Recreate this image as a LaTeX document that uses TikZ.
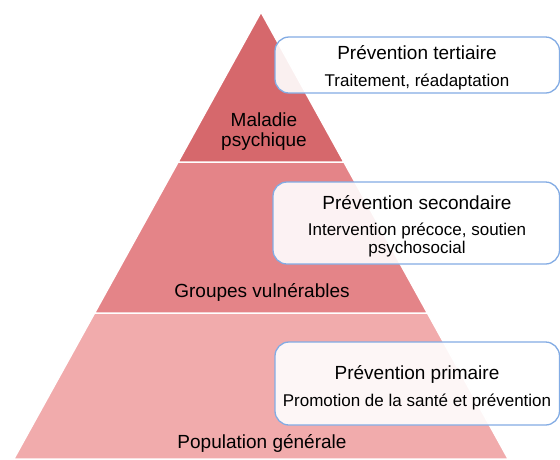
\documentclass[tikz,border=0pt]{standalone}
\usepackage{fontspec}
\setmainfont{Liberation Sans}
\definecolor{tierA}{RGB}{214,104,108}
\definecolor{tierB}{RGB}{228,132,136}
\definecolor{tierC}{RGB}{241,171,172}
\definecolor{boxline}{RGB}{131,172,228}
\tikzset{
  tier/.style={draw=white, line width=1.5pt},
  infobox/.style={draw=boxline, line width=1.3pt, fill=white, fill opacity=0.9, rounded corners=14pt},
  ttl/.style={anchor=base, inner sep=0pt, font=\fontsize{19}{22}\selectfont},
  sub/.style={anchor=base, inner sep=0pt, font=\fontsize{17}{18}\selectfont},
  lbl/.style={anchor=base, inner sep=0pt, font=\fontsize{19}{20}\selectfont}
}
\begin{document}
\begin{tikzpicture}[x=1pt,y=-1pt]
\useasboundingbox (0,0) rectangle (560,459);
% pyramid tiers
\fill[white] (0,0) rectangle (560,459);
\draw[tier, fill=tierC] (94.6,313) -- (427.4,313) -- (508.2,459) -- (13.8,459) -- cycle;
\draw[tier, fill=tierB] (178.1,162) -- (343.9,162) -- (427.4,313) -- (94.6,313) -- cycle;
\draw[tier, fill=tierA] (261,12) -- (343.9,162) -- (178.1,162) -- cycle;
% tier labels
\node[lbl] (m1) at (264,126) {Maladie};
\node[lbl] (m2) at (264,146) {psychique};
\node[lbl] (g) at (262,297) {Groupes vulnérables};
\node[lbl] (p) at (262,448) {Population générale};
% boxes
\draw[infobox] (275,37) rectangle (559.5,93);
\draw[infobox] (273,182) rectangle (559.5,264);
\draw[infobox] (275,342) rectangle (559.5,425);
% box texts
\node[ttl] (t1) at (417,59) {Prévention tertiaire};
\node[sub] (s1) at (417,86) {Traitement, réadaptation};
\node[ttl] (t2) at (417,209) {Prévention secondaire};
\node[sub] (s2a) at (417,235) {Intervention précoce, soutien};
\node[sub] (s2b) at (417,253) {psychosocial};
\node[ttl] (t3) at (417,379) {Prévention primaire};
\node[sub] (s3) at (417,406) {Promotion de la santé et prévention};
\end{tikzpicture}
\end{document}
